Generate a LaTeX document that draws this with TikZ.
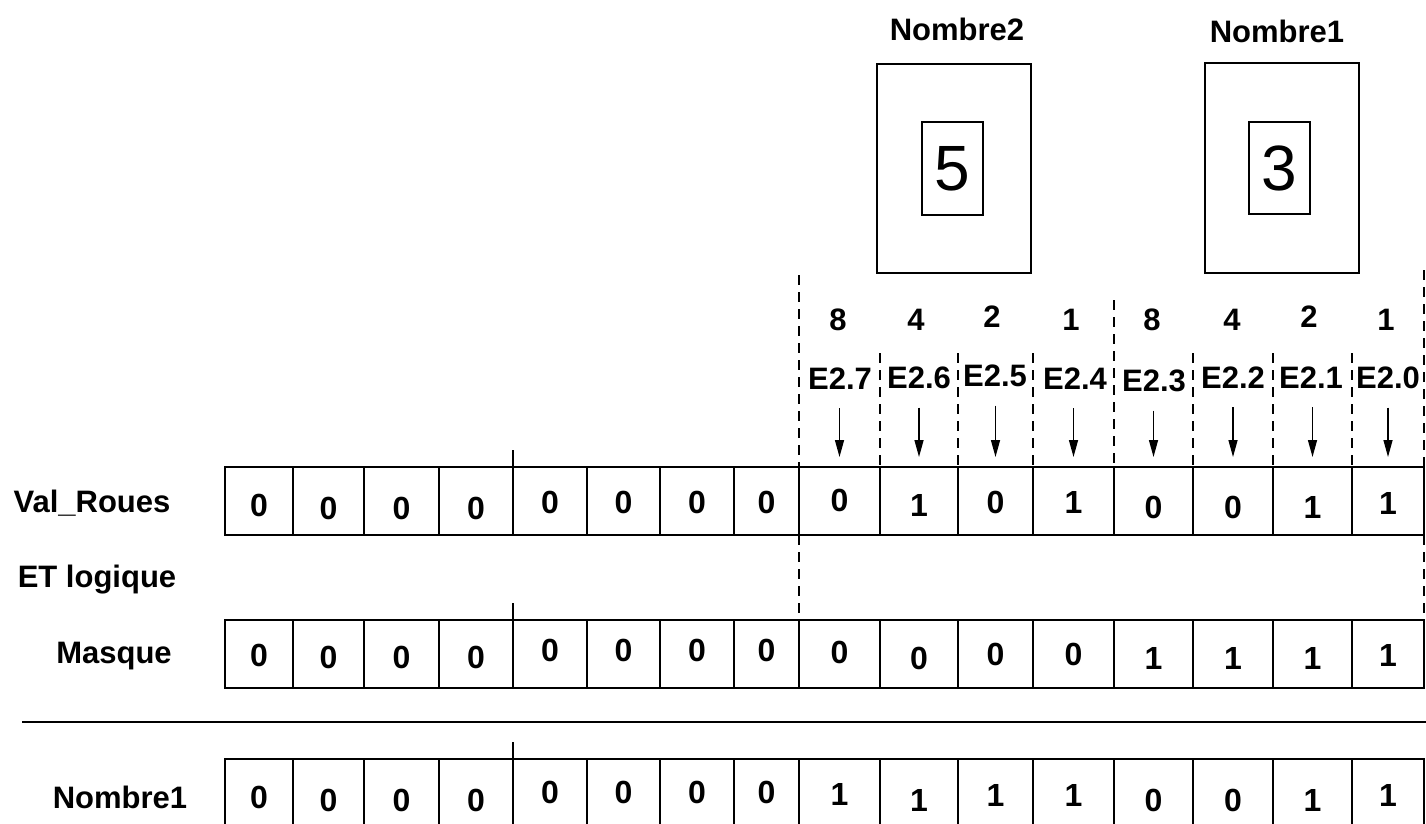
\documentclass[tikz,border=0pt]{standalone}
\usepackage{fontspec}
\setmainfont{Liberation Sans}
\usetikzlibrary{arrows.meta}
\begin{document}
\begin{tikzpicture}[x=1pt,y=-1pt,
  cell/.style={draw, line width=1.4pt, minimum height=68pt, inner sep=0pt, outer sep=0pt},
  bit/.style={font=\bfseries\fontsize{32}{34}\selectfont, inner sep=0pt},
  lbl/.style={font=\bfseries\fontsize{31}{33}\selectfont, inner sep=0pt, anchor=base},
  dsh/.style={line width=1.4pt, dash pattern=on 10pt off 7pt},
  arr/.style={line width=1.4pt, -{Triangle[length=17pt,width=9pt]}, shorten <=19pt, shorten >=10pt},
  frame/.style={draw, line width=1.4pt, inner sep=0pt, outer sep=0pt},
  ]
\useasboundingbox (0,0) rectangle (1426,823);

% Val_Roues row
\foreach \l/\r/\y/\d [count=\i] in {225/293/505/0, 293/364/508/0, 364/439/508/0, 439/513/508/0, 513/587/502/0, 587/660/502/0, 660/734/502/0, 734/799/502/0, 799/880/500/0, 880/958/505/1, 958/1033/502/0, 1033/1114/502/1, 1114/1193/507/0, 1193/1273/507/0, 1273/1352/507/1, 1352/1424/503/1}{
  \node[cell, minimum width={\r-\l}] (v\i) at ({(\l+\r)/2},501) {};
  \node[bit] (vb\i) at ({(\l+\r)/2},\y) {\d};
}
% Masque row
\foreach \l/\r/\y/\d [count=\i] in {225/293/655/0, 293/364/657/0, 364/439/657/0, 439/513/657/0, 513/587/650/0, 587/660/650/0, 660/734/650/0, 734/799/650/0, 799/880/652/0, 880/958/658/0, 958/1033/654/0, 1033/1114/654/0, 1114/1193/658/1, 1193/1273/658/1, 1273/1352/658/1, 1352/1424/655/1}{
  \node[cell, minimum width={\r-\l}] (m\i) at ({(\l+\r)/2},654) {};
  \node[bit] (mb\i) at ({(\l+\r)/2},\y) {\d};
}
% Nombre1 row
\foreach \l/\r/\y/\d [count=\i] in {225/293/797/0, 293/364/800/0, 364/439/800/0, 439/513/800/0, 513/587/792/0, 587/660/792/0, 660/734/792/0, 734/799/792/0, 799/880/794/1, 880/958/800/1, 958/1033/795/1, 1033/1114/795/1, 1114/1193/800/0, 1193/1273/800/0, 1273/1352/800/1, 1352/1424/795/1}{
  \node[cell, minimum width={\r-\l}] (n\i) at ({(\l+\r)/2},793) {};
  \node[bit] (nb\i) at ({(\l+\r)/2},\y) {\d};
}

% ticks
\draw[line width=1.4pt] (v5.north west) -- ++(0,-17);
\draw[line width=1.4pt] (m5.north west) -- ++(0,-17);
\draw[line width=1.4pt] (n5.north west) -- ++(0,-17);

% separator line
\draw[line width=1.4pt] (22,722) -- (1426,722);

% row labels
\node[lbl] (lv) at (92,512) {Val\_Roues};
\node[lbl] (let) at (97,587) {ET logique};
\node[lbl] (lm) at (114,663) {Masque};
\node[lbl] (ln) at (120,808) {Nombre1};

% weights
\foreach \x/\y/\t [count=\i] in {838/330/8, 916/330/4, 992/327/2, 1071/330/1, 1152/330/8, 1232/330/4, 1309/327/2, 1386/330/1}
  \node[lbl] (w\i) at (\x,\y) {\t};

% E2 labels
\foreach \x/\y/\t [count=\i] in {840/389/7, 919/388/6, 995/386/5, 1075/389/4, 1154/391/3, 1233/388/2, 1311/388/1, 1388/388/0}
  \node[lbl] (e\i) at (\x,\y) {E2.\t};

% arrows
\foreach \i in {1,...,8}{
  \pgfmathtruncatemacro\j{\i+8}
  \draw[arr] (v\j.north |- e\i.south) -- (v\j.north);
}

% dashed separators
\draw[dsh] (799,275) -- (v9.north west);
\draw[dsh] (v9.south west) -- (m9.north west);
\draw[dsh] (1424,270) -- (v16.north east);
\draw[dsh] (v16.south east) -- (m16.north east);
\draw[dsh] (1114,300) -- (v13.north west);
\foreach \k in {10,11,12,14,15,16}
  \draw[dsh] (v\k.north west |- 0,353) -- (v\k.north west);

% number boxes
\node[frame, minimum width=154pt, minimum height=209pt] (b2) at (954,168.5) {};
\node[frame, minimum width=61pt, minimum height=93pt, font=\fontsize{64}{66}\selectfont] (b2in) at (952.5,168.5) {5};
\node[frame, minimum width=154pt, minimum height=210pt] (b1) at (1282,168) {};
\node[frame, minimum width=61pt, minimum height=92pt, font=\fontsize{64}{66}\selectfont] (b1in) at (1279.5,168) {3};
\node[lbl] (t2) at (957,40) {Nombre2};
\node[lbl] (t1) at (1277,42) {Nombre1};
\end{tikzpicture}
\end{document}
